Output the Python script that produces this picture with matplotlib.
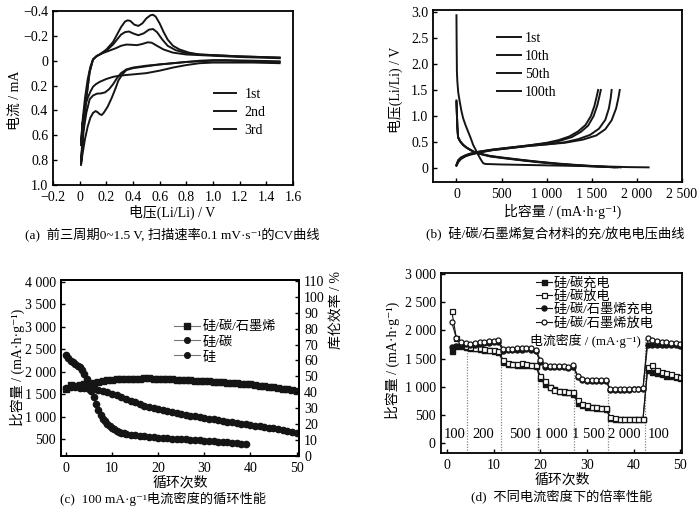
import numpy as np
import matplotlib
matplotlib.use("Agg")
import matplotlib.pyplot as plt

plt.rcParams['font.family'] = ['Liberation Serif', 'Noto Sans CJK SC', 'DejaVu Sans']
plt.rcParams['axes.unicode_minus'] = True

# ---------------- data: (a) CV curves ----------------
cv1_v = [1.50, 1.30, 1.10, 1.00, 0.90, 0.80, 0.70, 0.60, 0.50, 0.40, 0.30, 0.25, 0.20, 0.15, 0.12, 0.10, 0.08, 0.06, 0.04, 0.02, 0.01,
         0.02, 0.04, 0.06, 0.08, 0.10, 0.13, 0.17, 0.22, 0.27, 0.31, 0.35, 0.39, 0.43, 0.47, 0.51, 0.54, 0.58, 0.63, 0.70, 0.80, 0.90,
         1.00, 1.10, 1.20, 1.35, 1.50]
cv1_i = [0.02, 0.015, 0.015, 0.015, 0.02, 0.035, 0.055, 0.08, 0.10, 0.11, 0.12, 0.13, 0.147, 0.17, 0.19, 0.21, 0.25, 0.30, 0.37, 0.52, 0.68,
         0.50, 0.30, 0.15, 0.05, -0.01, -0.04, -0.06, -0.08, -0.10, -0.12, -0.13, -0.128, -0.125, -0.135, -0.148, -0.145, -0.12, -0.09,
         -0.065, -0.05, -0.045, -0.04, -0.035, -0.03, -0.025, -0.02]
cv2_v = [1.50, 1.30, 1.10, 1.00, 0.90, 0.80, 0.70, 0.60, 0.50, 0.40, 0.35, 0.31, 0.28, 0.25, 0.22, 0.19, 0.16, 0.13, 0.10, 0.075, 0.05, 0.03, 0.01,
         0.025, 0.05, 0.075, 0.10, 0.125, 0.15, 0.20, 0.25, 0.28, 0.31, 0.34, 0.37, 0.40, 0.44, 0.48, 0.52, 0.55, 0.58, 0.62, 0.66, 0.72,
         0.80, 0.90, 1.00, 1.10, 1.20, 1.35, 1.50]
cv2_i = [0.01, 0.005, 0.0, 0.0, 0.005, 0.01, 0.02, 0.03, 0.04, 0.055, 0.07, 0.10, 0.14, 0.19, 0.23, 0.255, 0.263, 0.265, 0.28, 0.31, 0.42, 0.56, 0.82,
         0.57, 0.30, 0.09, -0.01, -0.035, -0.05, -0.08, -0.13, -0.17, -0.21, -0.23, -0.235, -0.22, -0.205, -0.22, -0.25, -0.255, -0.23,
         -0.17, -0.12, -0.085, -0.06, -0.05, -0.045, -0.04, -0.035, -0.03, -0.025]
cv3_v = [1.50, 1.30, 1.10, 1.00, 0.90, 0.80, 0.70, 0.60, 0.50, 0.40, 0.35, 0.32, 0.29, 0.27, 0.24, 0.21, 0.18, 0.165, 0.15, 0.135, 0.12, 0.10,
         0.08, 0.06, 0.04, 0.02, 0.01,
         0.025, 0.05, 0.075, 0.10, 0.125, 0.15, 0.20, 0.25, 0.28, 0.31, 0.34, 0.36, 0.38, 0.41, 0.44, 0.47, 0.50, 0.53, 0.55, 0.57, 0.60,
         0.63, 0.66, 0.70, 0.75, 0.82, 0.90, 1.00, 1.10, 1.20, 1.35, 1.50]
cv3_i = [0.005, 0.0, -0.005, -0.005, 0.0, 0.01, 0.02, 0.03, 0.045, 0.06, 0.075, 0.11, 0.16, 0.22, 0.30, 0.37, 0.42, 0.437, 0.43, 0.415,
         0.405, 0.42, 0.46, 0.53, 0.63, 0.76, 0.84,
         0.57, 0.30, 0.09, -0.01, -0.035, -0.05, -0.09, -0.15, -0.21, -0.27, -0.315, -0.325, -0.32, -0.29, -0.28, -0.30, -0.34, -0.365,
         -0.37, -0.355, -0.30, -0.23, -0.17, -0.12, -0.09, -0.065, -0.05, -0.045, -0.04, -0.035, -0.03, -0.025]
cv_labels = ['1st', '2nd', '3rd']

# ---------------- data: (b) charge/discharge ----------------
dis1_c = [0, 2, 5, 10, 20, 37, 55, 74, 100, 130, 160, 185, 215, 241, 270, 296, 320, 500, 800, 1100, 1400, 1700, 1900, 2130]
dis1_v = [2.93, 2.40, 1.85, 1.66, 1.45, 1.27, 1.10, 0.96, 0.83, 0.70, 0.57, 0.45, 0.35, 0.26, 0.17, 0.10, 0.085, 0.075, 0.065, 0.055, 0.045, 0.035, 0.025, 0.02]
dis10_c = [0, 5, 10, 18, 40, 74, 110, 148, 200, 280, 370, 500, 741, 900, 1111, 1300, 1482, 1650, 1820]
dis10_v = [1.30, 1.05, 0.80, 0.60, 0.52, 0.45, 0.40, 0.36, 0.31, 0.27, 0.23, 0.20, 0.15, 0.12, 0.085, 0.06, 0.04, 0.03, 0.02]
dis50_c = [0, 5, 10, 18, 40, 74, 110, 148, 200, 280, 370, 500, 741, 900, 1111, 1300, 1482, 1650, 1780]
dis50_v = [1.28, 1.03, 0.79, 0.60, 0.52, 0.45, 0.40, 0.36, 0.31, 0.27, 0.235, 0.205, 0.155, 0.125, 0.09, 0.065, 0.045, 0.03, 0.02]
dis100_c = [0, 5, 10, 18, 40, 74, 110, 148, 200, 280, 370, 500, 741, 900, 1111, 1300, 1482, 1650, 1750]
dis100_v = [1.27, 1.02, 0.78, 0.59, 0.52, 0.45, 0.40, 0.36, 0.315, 0.275, 0.24, 0.21, 0.16, 0.13, 0.095, 0.07, 0.05, 0.03, 0.02]
chg1_c = [0, 20, 50, 100, 150, 250, 400, 600, 800, 1000, 1200, 1400, 1550, 1650, 1720, 1770, 1795, 1810]
chg1_v = [0.05, 0.12, 0.18, 0.23, 0.26, 0.30, 0.35, 0.39, 0.43, 0.46, 0.49, 0.55, 0.63, 0.75, 0.92, 1.15, 1.35, 1.50]
chg10_c = [0, 20, 50, 100, 150, 250, 400, 600, 800, 1000, 1200, 1350, 1480, 1580, 1650, 1690, 1710, 1720]
chg10_v = [0.06, 0.14, 0.19, 0.24, 0.27, 0.31, 0.35, 0.39, 0.43, 0.46, 0.50, 0.56, 0.64, 0.76, 0.93, 1.15, 1.35, 1.50]
chg50_c = [0, 20, 50, 100, 150, 250, 400, 600, 800, 1000, 1150, 1280, 1380, 1460, 1520, 1560, 1585, 1600]
chg50_v = [0.06, 0.15, 0.20, 0.25, 0.28, 0.32, 0.36, 0.40, 0.44, 0.48, 0.53, 0.60, 0.70, 0.82, 1.00, 1.20, 1.38, 1.50]
chg100_c = [0, 20, 50, 100, 150, 250, 400, 600, 800, 1000, 1130, 1250, 1350, 1430, 1490, 1530, 1555, 1570]
chg100_v = [0.07, 0.16, 0.21, 0.25, 0.28, 0.32, 0.36, 0.40, 0.44, 0.49, 0.54, 0.61, 0.71, 0.83, 1.00, 1.20, 1.38, 1.50]
gcd_labels = ['1st', '10th', '50th', '100th']

# ---------------- data: (c) cycling ----------------
cyc = list(range(0, 51))
sicg_cap = [1620, 1700, 1690, 1700, 1720, 1740, 1760, 1780, 1795, 1810, 1820, 1830, 1835, 1840, 1845, 1850, 1850, 1852, 1852,
            1850, 1848, 1842, 1838, 1832, 1826, 1820, 1815, 1810, 1805, 1800, 1795, 1788, 1780, 1772, 1765, 1758, 1750, 1742,
            1735, 1728, 1720, 1708, 1695, 1682, 1670, 1655, 1640, 1628, 1615, 1600, 1585]
sic_cap = [1650, 1670, 1660, 1650, 1640, 1625, 1610, 1590, 1565, 1545, 1515, 1480, 1440, 1400, 1360, 1320, 1285, 1250, 1220,
           1195, 1170, 1150, 1125, 1100, 1080, 1060, 1040, 1025, 1010, 995, 980, 962, 945, 928, 910, 895, 880, 865, 850, 835,
           820, 805, 790, 775, 760, 745, 725, 705, 685, 665, 640]
si_cyc = [0, 0.5, 1, 1.5, 2, 2.5, 3, 3.5, 4, 4.5, 5, 5.5, 6, 6.5, 7, 7.5, 8, 8.5, 9, 9.5, 10, 10.5, 11, 11.5, 12, 12.5, 13,
          14, 15, 16, 17, 18, 19, 20, 21, 22, 23, 24, 25, 26, 27, 28, 29, 30, 31, 32, 33, 34, 35, 36, 37, 38, 39]
si_cap = [2370, 2300, 2250, 2210, 2180, 2140, 2100, 2030, 1950, 1850, 1720, 1580, 1430, 1280, 1150, 1040, 960, 900, 850, 800,
          760, 720, 690, 665, 645, 630, 615, 600, 588, 578, 568, 560, 550, 540, 532, 525, 518, 512, 505, 498, 490, 484, 478,
          470, 462, 455, 448, 440, 432, 425, 415, 405, 395]
cyc_labels = ['硅/碳/石墨烯', '硅/碳', '硅']

# ---------------- data: (d) rate performance ----------------
rate_cyc = list(range(1, 51))
sic_chg = [1640, 1720, 1730, 1700, 1690, 1680, 1670, 1660, 1650, 1640, 1620, 1440, 1410, 1400, 1395, 1390, 1385, 1380, 1370,
           1150, 1050, 1000, 960, 930, 910, 900, 880, 720, 680, 650, 640, 630, 620, 610, 450, 430, 425, 425, 425, 425, 425, 425,
           1300, 1270, 1250, 1220, 1200, 1190, 1170, 1150]
sic_dis = [2350, 1870, 1760, 1720, 1700, 1690, 1680, 1670, 1660, 1650, 1640, 1480, 1420, 1410, 1400, 1420, 1400, 1390, 1380,
           1200, 1100, 1000, 950, 930, 920, 910, 900, 760, 700, 670, 650, 640, 630, 620, 470, 440, 435, 435, 435, 435, 435, 435,
           1350, 1380, 1300, 1270, 1250, 1220, 1200, 1180]
sicg_chg = [1700, 1720, 1750, 1760, 1740, 1750, 1760, 1770, 1780, 1790, 1790, 1640, 1650, 1650, 1655, 1660, 1665, 1660, 1640,
            1440, 1360, 1350, 1350, 1350, 1345, 1340, 1360, 1180, 1120, 1110, 1110, 1105, 1100, 1100, 950, 945, 945, 950, 950,
            955, 955, 960, 1750, 1750, 1745, 1745, 1740, 1740, 1735, 1730]
sicg_dis = [2150, 1860, 1800, 1780, 1760, 1780, 1790, 1800, 1810, 1820, 1830, 1670, 1670, 1675, 1680, 1690, 1690, 1680, 1660,
            1480, 1390, 1370, 1370, 1370, 1365, 1360, 1390, 1200, 1140, 1130, 1125, 1120, 1120, 1115, 970, 960, 960, 965, 965,
            970, 970, 980, 1860, 1830, 1810, 1800, 1790, 1780, 1770, 1760]
rate_labels = ['硅/碳充电', '硅/碳放电', '硅/碳/石墨烯充电', '硅/碳/石墨烯放电']
rate_bounds = [4.2, 11.6, 19.4, 27.2, 34.6, 42.5]
rate_bound_tops = [1780, 1840, 1720, 1380, 1170, 1860]
rate_names = ['100', '200', '500', '1 000', '1 500', '2 000', '100']
rate_name_x = [1.7, 7.7, 15.6, 22.4, 30.3, 37.9, 45.3]

# ---------------- layout helpers ----------------
W, H = 700, 512
fig = plt.figure(figsize=(7, 5.12), dpi=100)


def ax_px(l, t, r, b):
    return fig.add_axes([l / W, 1 - b / H, (r - l) / W, (b - t) / H])


def ftext(x, y, s, **kw):
    kw.setdefault('ha', 'center')
    kw.setdefault('va', 'center')
    fig.text(x / W, 1 - y / H, s, **kw)


def style(ax):
    for sp in ax.spines.values():
        sp.set_linewidth(1.3)
    ax.tick_params(direction='in', length=3, width=1.0, labelsize=10, pad=3.5)
    ax.tick_params(axis='x', pad=4.5)


LC = '#151515'
FS_LAB = 10

# ---------------- (a) ----------------
axA = ax_px(53, 11, 293, 185)
style(axA)
for v, i, lab in [(cv1_v, cv1_i, cv_labels[0]), (cv2_v, cv2_i, cv_labels[1]), (cv3_v, cv3_i, cv_labels[2])]:
    axA.plot(v, i, color=LC, lw=1.4, label=lab)
axA.set_xlim(-0.2, 1.6)
axA.set_ylim(1.0, -0.4)
xa = [-0.2, 0, 0.2, 0.4, 0.6, 0.8, 1.0, 1.2, 1.4, 1.6]
axA.set_xticks(xa)
axA.set_xticklabels(['\u22120.2', '0', '0.2', '0.4', '0.6', '0.8', '1.0', '1.2', '1.4', '1.6'])
ya = [-0.4, -0.2, 0, 0.2, 0.4, 0.6, 0.8, 1.0]
axA.set_yticks(ya)
axA.set_yticklabels(['\u22120.4', '\u22120.2', '0', '0.2', '0.4', '0.6', '0.8', '1.0'])
axA.legend(loc='upper left', bbox_to_anchor=(214 / W, 1 - 88 / H), bbox_transform=fig.transFigure,
           frameon=False, fontsize=10, handlelength=1.6, handletextpad=0.6, labelspacing=0.35,
           borderpad=0, borderaxespad=0)
ftext(15, 100, '电流 / mA', rotation=90, fontsize=FS_LAB)
ftext(172, 212, '电压(Li/Li) / V', fontsize=FS_LAB)
ftext(172, 234, '(a)  前三周期0~1.5 V, 扫描速率0.1 mV·s⁻¹的CV曲线', fontsize=9.5)

# ---------------- (b) ----------------
axB = ax_px(433, 10, 682, 182)
style(axB)
axB.plot(dis1_c, dis1_v, color=LC, lw=1.4, label=gcd_labels[0])
axB.plot(dis10_c, dis10_v, color=LC, lw=1.4, label=gcd_labels[1])
axB.plot(dis50_c, dis50_v, color=LC, lw=1.4, label=gcd_labels[2])
axB.plot(dis100_c, dis100_v, color=LC, lw=1.4, label=gcd_labels[3])
axB.plot(chg1_c, chg1_v, color=LC, lw=1.4)
axB.plot(chg10_c, chg10_v, color=LC, lw=1.4)
axB.plot(chg50_c, chg50_v, color=LC, lw=1.4)
axB.plot(chg100_c, chg100_v, color=LC, lw=1.4)
axB.set_xlim(-260, 2500)
axB.set_ylim(-0.26, 3.03)
axB.set_xticks([0, 500, 1000, 1500, 2000, 2500])
axB.set_xticklabels(['0', '500', '1 000', '1 500', '2 000', '2 500'])
axB.set_yticks([0, 0.5, 1.0, 1.5, 2.0, 2.5, 3.0])
axB.set_yticklabels(['0', '0.5', '1.0', '1.5', '2.0', '2.5', '3.0'])
axB.legend(loc='upper left', bbox_to_anchor=(497 / W, 1 - 32 / H), bbox_transform=fig.transFigure,
           frameon=False, fontsize=10, handlelength=1.7, handletextpad=0.3, labelspacing=0.35,
           borderpad=0, borderaxespad=0)
ftext(395, 90, '电压(Li/Li) / V', rotation=90, fontsize=FS_LAB)
ftext(563, 211, '比容量 / (mA·h·g⁻¹)', fontsize=FS_LAB)
ftext(555, 234, '(b)  硅/碳/石墨烯复合材料的充/放电电压曲线', fontsize=9.5)

# ---------------- (c) ----------------
axC = ax_px(60.7, 280, 299.3, 456)
style(axC)
axC.plot(cyc, sicg_cap, color='#777777', lw=0.8, marker='s', ms=4.2, mfc=LC, mec=LC, label=cyc_labels[0])
axC.plot(cyc, sic_cap, color='#777777', lw=0.8, marker='o', ms=4.5, mfc=LC, mec=LC, label=cyc_labels[1])
axC.plot(si_cyc, si_cap, color='#777777', lw=0.8, marker='o', ms=4.5, mfc=LC, mec=LC, label=cyc_labels[2])
axC.set_xlim(-1.15, 50.6)
axC.set_ylim(130, 4040)
axC.set_xticks([0, 10, 20, 30, 40, 50])
axC.set_yticks([500, 1000, 1500, 2000, 2500, 3000, 3500, 4000])
axC.set_yticklabels(['500', '1 000', '1 500', '2 000', '2 500', '3 000', '3 500', '4 000'])
axC2 = axC.twinx()
style(axC2)
axC2.set_ylim(0, 110.5)
axC2.set_yticks(list(range(0, 111, 10)))
axC.legend(loc='upper left', bbox_to_anchor=(174 / W, 1 - 321 / H), bbox_transform=fig.transFigure,
           frameon=False, fontsize=9.5, handlelength=2.0, handletextpad=0.15, labelspacing=0.2,
           borderpad=0, borderaxespad=0, markerscale=0.9)
ftext(17, 367, '比容量 / (mA·h·g⁻¹)', rotation=90, fontsize=FS_LAB)
ftext(336, 310, '库伦效率 / %', rotation=90, fontsize=FS_LAB)
ftext(180, 483, '循环次数', fontsize=FS_LAB)
ftext(163, 499, '(c)  100 mA·g⁻¹电流密度的循环性能', fontsize=9.5)

# ---------------- (d) ----------------
axD = ax_px(440.7, 273.3, 681.7, 452.7)
style(axD)
axD.set_xlim(-1.35, 50.3)
axD.set_ylim(-167, 3012)
for xb, yt in zip(rate_bounds, rate_bound_tops):
    axD.plot([xb, xb], [-167, yt], color='#888888', lw=0.9, ls=(0, (1, 1.2)))
axD.plot(rate_cyc, sic_chg, color=LC, lw=0.8, marker='s', ms=3.6, mfc=LC, mec=LC, label=rate_labels[0])
axD.plot(rate_cyc, sic_dis, color=LC, lw=0.8, marker='s', ms=3.6, mfc='white', mec=LC, mew=0.9, label=rate_labels[1])
axD.plot(rate_cyc, sicg_chg, color=LC, lw=0.8, marker='o', ms=3.6, mfc=LC, mec=LC, label=rate_labels[2])
axD.plot(rate_cyc, sicg_dis, color=LC, lw=0.8, marker='o', ms=3.6, mfc='white', mec=LC, mew=0.9, label=rate_labels[3])
axD.set_xticks([0, 10, 20, 30, 40, 50])
axD.set_yticks([0, 500, 1000, 1500, 2000, 2500, 3000])
axD.set_yticklabels(['0', '500', '1 000', '1 500', '2 000', '2 500', '3 000'])
for xn, nm in zip(rate_name_x, rate_names):
    axD.text(xn, 150, nm, ha='center', va='center', fontsize=10.5)
axD.legend(loc='upper left', bbox_to_anchor=(536 / W, 1 - 277 / H), bbox_transform=fig.transFigure,
           frameon=False, fontsize=9.5, handlelength=1.2, handletextpad=0.15, labelspacing=0.06,
           borderpad=0, borderaxespad=0)
axD.text(17.7, 1818, '电流密度 / (mA·g⁻¹)', ha='left', va='center', fontsize=9.3, zorder=10)
ftext(392, 360, '比容量 / (mA·h·g⁻¹)', rotation=90, fontsize=FS_LAB)
ftext(562, 480, '循环次数', fontsize=FS_LAB)
ftext(562, 497, '(d)  不同电流密度下的倍率性能', fontsize=9.5)

fig.savefig('out.png', dpi=100)
